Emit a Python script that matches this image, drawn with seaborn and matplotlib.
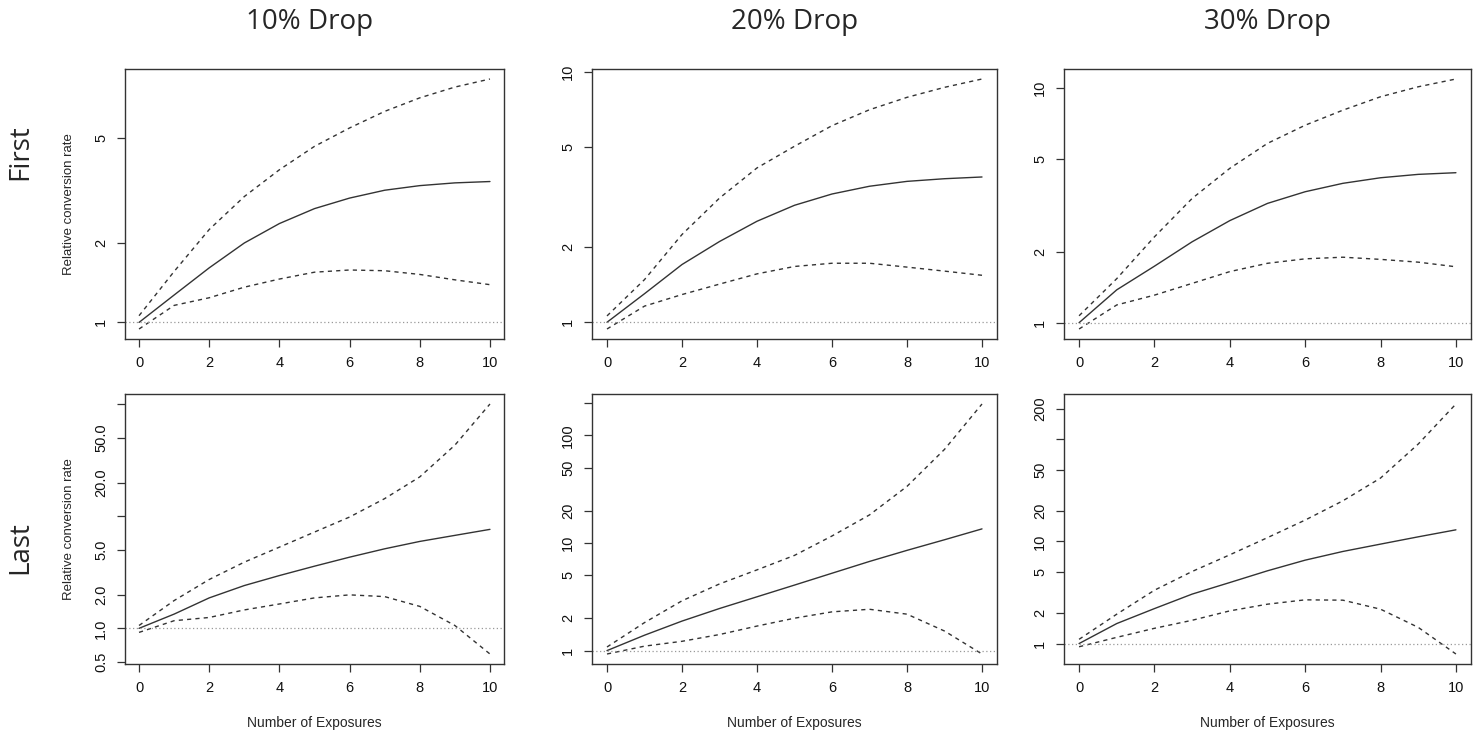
import numpy as np
import pandas as pd
import matplotlib
matplotlib.use("Agg")
import matplotlib.pyplot as plt
from matplotlib.ticker import NullLocator, FixedLocator, FixedFormatter
import seaborn as sns


# values
exposures = [0, 1, 2, 3, 4, 5, 6, 7, 8, 9, 10]
col_titles = ["10% Drop", "20% Drop", "30% Drop"]
row_titles = ["First", "Last"]

first_10_fit = [1.0, 1.27, 1.61, 2.0, 2.37, 2.70, 2.96, 3.17, 3.30, 3.38, 3.42]
first_10_upper = [1.06, 1.56, 2.25, 3.0, 3.79, 4.65, 5.46, 6.31, 7.1, 7.8, 8.37]
first_10_lower = [0.944, 1.16, 1.24, 1.36, 1.46, 1.55, 1.58, 1.57, 1.52, 1.45, 1.39]

first_20_fit = [1.0, 1.30, 1.70, 2.10, 2.53, 2.93, 3.25, 3.49, 3.65, 3.74, 3.80]
first_20_upper = [1.06, 1.48, 2.24, 3.13, 4.13, 5.04, 6.09, 7.05, 7.9, 8.66, 9.35]
first_20_lower = [0.94, 1.16, 1.29, 1.42, 1.56, 1.67, 1.72, 1.72, 1.66, 1.60, 1.54]

first_30_fit = [1.0, 1.38, 1.74, 2.21, 2.72, 3.22, 3.61, 3.92, 4.14, 4.28, 4.35]
first_30_upper = [1.07, 1.54, 2.32, 3.38, 4.54, 5.8, 6.93, 8.03, 9.16, 10.1, 10.9]
first_30_lower = [0.94, 1.19, 1.31, 1.47, 1.65, 1.79, 1.87, 1.90, 1.86, 1.81, 1.73]

last_10_fit = [1.0, 1.34, 1.87, 2.41, 2.96, 3.59, 4.32, 5.13, 5.97, 6.76, 7.65]
last_10_upper = [1.06, 1.77, 2.73, 3.90, 5.31, 7.24, 9.86, 14.4, 22.5, 43.2, 100.7]
last_10_lower = [0.92, 1.17, 1.25, 1.46, 1.65, 1.87, 1.99, 1.92, 1.57, 1.06, 0.59]

last_20_fit = [1.0, 1.39, 1.88, 2.46, 3.16, 4.06, 5.23, 6.73, 8.53, 10.7, 13.5]
last_20_upper = [1.08, 1.82, 2.90, 4.16, 5.62, 7.66, 11.6, 18.2, 33.5, 73.9, 195.0]
last_20_lower = [0.93, 1.10, 1.22, 1.41, 1.69, 2.0, 2.29, 2.42, 2.18, 1.52, 0.93]

last_30_fit = [1.0, 1.57, 2.20, 3.05, 3.96, 5.16, 6.56, 7.98, 9.42, 11.1, 13.0]
last_30_upper = [1.10, 1.94, 3.33, 5.08, 7.40, 10.9, 16.2, 25.0, 41.8, 90.0, 222.0]
last_30_lower = [0.93, 1.15, 1.41, 1.69, 2.09, 2.43, 2.68, 2.66, 2.17, 1.44, 0.79]

x_ticks = [0, 2, 4, 6, 8, 10]
y_ticks = [
    [[1, 2, 5], [1, 2, 5, 10], [1, 2, 5, 10]],
    [[0.5, 1, 2, 5, 10, 20, 50, 100], [1, 2, 5, 10, 20, 50, 100, 200],
     [1, 2, 5, 10, 20, 50, 100, 200]],
]
y_tick_labels = [
    [["1", "2", "5"], ["1", "2", "5", "10"], ["1", "2", "5", "10"]],
    [["0.5", "1.0", "2.0", "5.0", "", "20.0", "50.0", ""],
     ["1", "2", "5", "10", "20", "50", "100", ""],
     ["1", "2", "5", "10", "20", "50", "", "200"]],
]

panels = [
    [(first_10_fit, first_10_upper, first_10_lower),
     (first_20_fit, first_20_upper, first_20_lower),
     (first_30_fit, first_30_upper, first_30_lower)],
    [(last_10_fit, last_10_upper, last_10_lower),
     (last_20_fit, last_20_upper, last_20_lower),
     (last_30_fit, last_30_upper, last_30_lower)],
]


# R base-graphics look
sns.set_theme(style="white")
plt.rcParams["font.family"] = ["Liberation Sans", "DejaVu Sans"]
line_col = "#333333"

fig = plt.figure(figsize=(14.81, 7.36), dpi=100)

col_left = [125, 592, 1064]
col_right = [504, 997, 1471]
row_top = [69, 394]
row_bottom = [339, 664]
W, H = 1481, 736

for r in range(2):
    for c in range(3):
        x0 = col_left[c] / W
        w = (col_right[c] - col_left[c]) / W
        y0 = 1 - row_bottom[r] / H
        h = (row_bottom[r] - row_top[r]) / H
        ax = fig.add_axes([x0, y0, w, h])
        fit, upper, lower = panels[r][c]
        df = pd.DataFrame({"x": exposures, "fit": fit, "upper": upper, "lower": lower})

        sns.lineplot(data=df, x="x", y="fit", ax=ax, color=line_col, linewidth=1.0)
        sns.lineplot(data=df, x="x", y="upper", ax=ax, color=line_col,
                     linewidth=1.0, linestyle=(0, (3, 3)))
        sns.lineplot(data=df, x="x", y="lower", ax=ax, color=line_col,
                     linewidth=1.0, linestyle=(0, (3, 3)))
        ax.axhline(1, color="#999999", linewidth=0.9, linestyle=(0, (1, 2)))

        ax.set_yscale("log")
        lo = np.log10(min(lower))
        hi = np.log10(max(upper))
        pad = 0.04 * (hi - lo)
        ax.set_ylim(10 ** (lo - pad), 10 ** (hi + pad))
        ax.set_xlim(-0.4, 10.4)

        ax.yaxis.set_minor_locator(NullLocator())
        ax.yaxis.set_major_locator(FixedLocator(y_ticks[r][c]))
        ax.yaxis.set_major_formatter(FixedFormatter(y_tick_labels[r][c]))
        ax.set_xticks(x_ticks)
        ax.set_xticklabels([str(t) for t in x_ticks])

        for s in ax.spines.values():
            s.set_color(line_col)
            s.set_linewidth(1.0)
        ax.tick_params(axis="both", direction="out", length=6, width=0.9,
                       color=line_col, labelsize=10.5, labelcolor="#111111",
                       left=True, bottom=True, pad=6)
        for lab in ax.get_yticklabels():
            lab.set_rotation(90)
            lab.set_va("center")

        ax.set_xlabel("Number of Exposures" if r == 1 else "", fontsize=10,
                      labelpad=15)
        ax.set_ylabel("Relative conversion rate" if c == 0 else "", fontsize=9.5,
                      labelpad=14)

for c, t in enumerate(col_titles):
    fig.text([310, 795, 1268][c] / W, 1 - 22 / H, t, ha="center", va="center",
             fontsize=20, family=["Open Sans", "DejaVu Sans"])

fig.text(20 / W, 1 - 152 / H, row_titles[0], rotation=90, ha="center", va="center",
         fontsize=20, family=["Open Sans", "DejaVu Sans"])
fig.text(20 / W, 1 - 548 / H, row_titles[1], rotation=90, ha="center", va="center",
         fontsize=20, family=["Open Sans", "DejaVu Sans"])

fig.savefig("out.png", dpi=100)
